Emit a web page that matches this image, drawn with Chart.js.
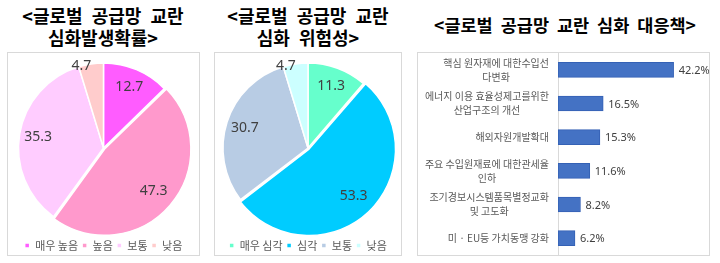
<!DOCTYPE html>
<html>
<head>
<meta charset="utf-8">
<script src="https://cdn.jsdelivr.net/npm/chart.js@4"></script>
<style>
  html, body { margin:0; padding:0; background:#fff; }
  body { width:720px; height:263px; position:relative; overflow:hidden; font-family:"Noto Sans CJK KR","Noto Sans",sans-serif; }
  .box { position:absolute; border:1px solid #D9D9D9; box-sizing:border-box; background:#fff; }
  .title { position:absolute; text-align:center; font-weight:700; font-size:18px; line-height:22px; color:#000; word-spacing:5px; white-space:nowrap; }
  .holder { position:absolute; }
  canvas { position:absolute; left:0; top:0; }
</style>
</head>
<body>
<div class="title" style="left:3px;top:4px;width:200px;">&lt;글로벌 공급망 교란<br>심화발생확률&gt;</div>
<div class="title" style="left:208px;top:4px;width:200px;">&lt;글로벌 공급망 교란<br>심화 위험성&gt;</div>
<div class="title" style="left:415px;top:14px;width:300px;font-size:17.5px;word-spacing:4px;">&lt;글로벌 공급망 교란 심화 대응책&gt;</div>

<div class="box" style="left:7px;top:52px;width:193px;height:204px;"></div>
<div class="box" style="left:214px;top:52px;width:188px;height:204px;"></div>
<div class="box" style="left:417px;top:52px;width:293px;height:204px;"></div>

<div class="holder" style="left:8px;top:53px;width:191px;height:208px;"><canvas id="c1"></canvas></div>
<div class="holder" style="left:215px;top:53px;width:186px;height:208px;"><canvas id="c2"></canvas></div>
<div class="holder" style="left:418px;top:53px;width:291px;height:202px;"><canvas id="c3"></canvas></div>

<script>
// ---- data ----
const pie1Labels = ['매우 높음', '높음', '보통', '낮음'];
const pie1Values = [12.7, 47.3, 35.3, 4.7];
const pie2Labels = ['매우 심각', '심각', '보통', '낮음'];
const pie2Values = [11.3, 53.3, 30.7, 4.7];
const barLabels = [
  ['핵심 원자재에 대한수입선', '다변화'],
  ['에너지 이용 효율성제고를위한', '산업구조의 개선'],
  ['해외자원개발확대'],
  ['주요 수입원재료에 대한관세율', '인하'],
  ['조기경보시스템품목별정교화', '및 고도화'],
  ['미 · EU등 가치동맹 강화']
];
const barValues = [42.2, 16.5, 15.3, 11.6, 8.2, 6.2];

// ---- styles ----
const pie1Colors = ['#FF5CFF', '#FF99CC', '#FFCCFF', '#FFCCCC'];
const pie2Colors = ['#66FFCC', '#00CCFF', '#B8CCE4', '#CCFFFF'];
const FONT = '"Noto Sans CJK KR","Noto Sans",sans-serif';

const pieLabelPlugin = {
  id: 'pieLabelPlugin',
  afterDatasetsDraw(chart) {
    const ctx = chart.ctx;
    const meta = chart.getDatasetMeta(0);
    const vals = chart.data.datasets[0].data;
    ctx.save();
    ctx.font = '14px "Noto Sans",sans-serif';
    ctx.fillStyle = '#404040';
    ctx.textBaseline = 'middle';
    meta.data.forEach((arc, i) => {
      const p = arc.getProps(['x','y','startAngle','endAngle','outerRadius'], true);
      const mid = (p.startAngle + p.endAngle) / 2;
      const v = vals[i];
      const small = v < 6;
      const r = p.outerRadius * (small ? 0.97 : 0.78);
      const x = p.x + Math.cos(mid) * r;
      const y = p.y + Math.sin(mid) * r;
      ctx.textAlign = small ? 'right' : 'center';
      ctx.fillText(String(v), x, y);
    });
    ctx.restore();
  }
};

function sizeCanvas(id, w, h) {
  const c = document.getElementById(id);
  c.width = w; c.height = h; c.style.width = w + 'px'; c.style.height = h + 'px';
}
sizeCanvas('c1', 191, 208);
sizeCanvas('c2', 186, 208);
sizeCanvas('c3', 291, 202);

function makePie(id, labels, values, colors) {
  return new Chart(document.getElementById(id), {
    type: 'pie',
    data: {
      labels: labels,
      datasets: [{
        data: values,
        backgroundColor: colors,
        borderColor: '#ffffff',
        borderWidth: 1.5,
        offset: values.map((v, i) => i === 1 ? 6 : 0),
        clip: false
      }]
    },
    options: {
      responsive: false,
      animation: false,
      devicePixelRatio: 1,
      radius: 85,
      layout: { padding: { top: 7, left: 0, right: 0, bottom: 0 } },
      plugins: {
        tooltip: { enabled: false },
        legend: {
          position: 'bottom',
          labels: {
            boxWidth: 5, boxHeight: 5, padding: 4,
            color: '#595959',
            font: { family: FONT, size: 11 }
          }
        }
      }
    },
    plugins: [pieLabelPlugin]
  });
}

makePie('c1', pie1Labels, pie1Values, pie1Colors);
makePie('c2', pie2Labels, pie2Values, pie2Colors);

const barTextPlugin = {
  id: 'barTextPlugin',
  afterDatasetsDraw(chart) {
    const ctx = chart.ctx;
    const ys = chart.scales.y;
    const meta = chart.getDatasetMeta(0);
    const area = chart.chartArea;
    ctx.save();
    ctx.font = '10px ' + FONT;
    ctx.fillStyle = '#595959';
    ctx.textBaseline = 'middle';
    ctx.textAlign = 'center';
    const lh = 14;
    chart.data.labels.forEach((lines, i) => {
      const yc = ys.getPixelForValue(i);
      const maxW = Math.max(...lines.map(l => ctx.measureText(l).width));
      const cx = area.left - 9 - maxW / 2;
      lines.forEach((l, k) => {
        ctx.fillText(l, cx, yc + (k - (lines.length - 1) / 2) * lh);
      });
    });
    ctx.font = '11px "Noto Sans",sans-serif';
    ctx.fillStyle = '#404040';
    ctx.textAlign = 'left';
    meta.data.forEach((bar, i) => {
      ctx.fillText(chart.data.datasets[0].data[i].toFixed(1) + '%', bar.x + 5, bar.y + 1);
    });
    ctx.restore();
  }
};

new Chart(document.getElementById('c3'), {
  type: 'bar',
  data: {
    labels: barLabels,
    datasets: [{
      data: barValues,
      backgroundColor: '#4472C4',
      borderColor: '#3461B5',
      borderWidth: 1,
      borderSkipped: false,
      barThickness: 15
    }]
  },
  options: {
    indexAxis: 'y',
    responsive: false,
    animation: false,
    devicePixelRatio: 1,
    layout: { padding: { top: 0, bottom: 0, left: 0, right: 14 } },
    scales: {
      x: { display: false, min: 0, max: 50 },
      y: {
        display: true,
        ticks: { display: false },
        grid: { display: false, drawTicks: false },
        border: { display: true, color: '#D9D9D9', width: 1 },
        afterFit(scale) { scale.width = 140; }
      }
    },
    plugins: { legend: { display: false }, tooltip: { enabled: false } }
  },
  plugins: [barTextPlugin]
});
</script>
</body>
</html>
